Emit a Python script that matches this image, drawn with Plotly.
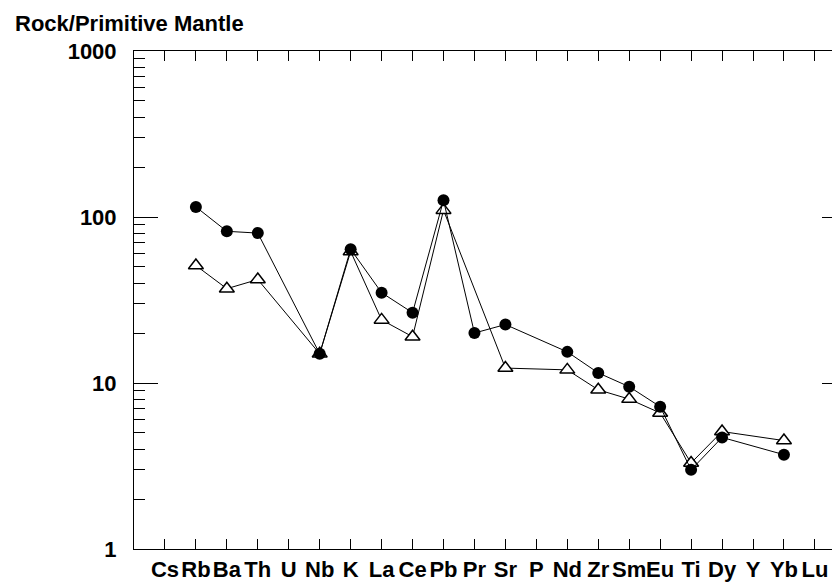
import plotly.graph_objects as go

elements = ["Cs", "Rb", "Ba", "Th", "U", "Nb", "K", "La", "Ce", "Pb", "Pr",
            "Sr", "P", "Nd", "Zr", "Sm", "Eu", "Ti", "Dy", "Y", "Yb", "Lu"]
sample_filled = [None, 115, 82, 80, None, 15, 64, 35, 26.5, 126, 20,
                 22.5, None, 15.4, 11.5, 9.5, 7.2, 3.0, 4.7, None, 3.7, None]
sample_open = [None, 51, 37, 42, None, 15, 62, 24, 19, 110, None,
               12.3, None, 12, 9.1, 8.0, 6.6, 3.3, 5.1, None, 4.5, None]
y_tick_vals = [1, 10, 100, 1000]
y_tick_text = ["1", "10", "100", "1000"]
title_text = "Rock/Primitive Mantle"

FONT = "Liberation Sans, Arial, sans-serif"
xs = list(range(len(elements)))
minor_vals = [m * 10 ** e for e in range(3) for m in range(2, 10)]

# the page body adds an 8px offset, so the figure is sized 8px smaller
OFF = 8
W, H = 840 - OFF, 583 - OFF

fig = go.Figure()
fig.add_trace(go.Scatter(
    x=xs, y=sample_open, mode="lines+markers", connectgaps=True,
    line=dict(color="black", width=1),
    marker=dict(symbol="triangle-up", size=13, color="white",
                line=dict(color="black", width=1.5)),
    showlegend=False))
fig.add_trace(go.Scatter(
    x=xs, y=sample_filled, mode="lines+markers", connectgaps=True,
    line=dict(color="black", width=1),
    marker=dict(symbol="circle", size=12, color="black",
                line=dict(color="black", width=0)),
    showlegend=False))
fig.add_trace(go.Scatter(x=[None], y=[None], yaxis="y2", showlegend=False,
                         hoverinfo="skip"))

fig.update_layout(
    width=W, height=H,
    margin=dict(l=134 - OFF, r=0, t=51 - OFF, b=34, autoexpand=False),
    paper_bgcolor="white", plot_bgcolor="white",
    font=dict(family=FONT, size=22, color="black"),
    title=dict(text="<b>" + title_text + "</b>", x=(15 - OFF) / W,
               xanchor="left", y=1 - (23.5 - OFF) / H, yanchor="middle",
               font=dict(family=FONT, size=22, color="black")),
    xaxis=dict(
        range=[-1, -1 + (840 - 134) / 30.95],
        tickmode="array", tickvals=xs,
        ticktext=["<b>" + e + "</b>" for e in elements],
        ticks="inside", ticklen=10, tickcolor="black", tickwidth=1,
        tickangle=0, automargin=False,
        showline=True, linecolor="black", linewidth=1, mirror="ticks",
        showgrid=False, zeroline=False, ticklabelstandoff=1,
        tickfont=dict(family=FONT, size=22, color="black")),
    yaxis=dict(
        type="log", range=[0, 3], automargin=False,
        tickmode="array", tickvals=y_tick_vals,
        ticktext=["<b>" + t + "</b>" for t in y_tick_text],
        ticks="inside", ticklen=24, tickcolor="black", tickwidth=1,
        minor=dict(tickmode="array", tickvals=minor_vals, ticks="inside",
                   ticklen=11, tickcolor="black", tickwidth=1, showgrid=False),
        showline=True, linecolor="black", linewidth=1, mirror=False,
        showgrid=False, zeroline=False, ticklabelstandoff=12,
        tickfont=dict(family=FONT, size=22, color="black")),
    yaxis2=dict(
        type="log", range=[0, 3], overlaying="y", side="right", anchor="x",
        automargin=False,
        tickmode="array", tickvals=y_tick_vals, showticklabels=False,
        ticks="inside", ticklen=18, tickcolor="black", tickwidth=1,
        minor=dict(tickmode="array", tickvals=minor_vals, ticks="inside",
                   ticklen=6, tickcolor="black", tickwidth=1, showgrid=False),
        showline=False, showgrid=False, zeroline=False),
)

fig.write_html("out.html")
